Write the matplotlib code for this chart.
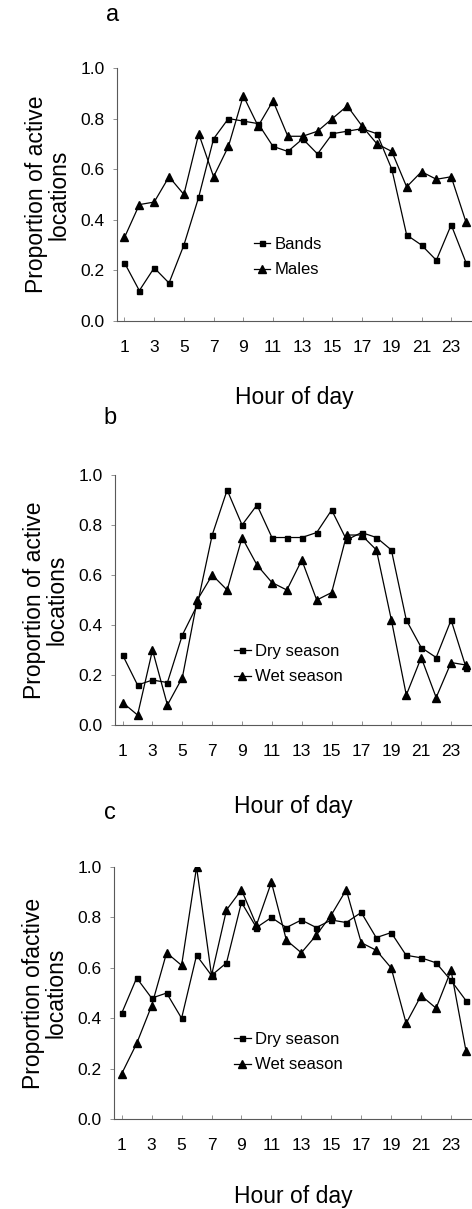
import matplotlib
matplotlib.use("Agg")
import matplotlib.pyplot as plt

plt.rcParams['font.family'] = ['Liberation Sans Narrow', 'Liberation Sans', 'DejaVu Sans']

hours = list(range(1, 25))
xtick_vals = list(range(1, 24, 2))
ytick_vals = [0.0, 0.2, 0.4, 0.6, 0.8, 1.0]

# panel a
bands = [0.23, 0.12, 0.21, 0.15, 0.30, 0.49, 0.72, 0.80, 0.79, 0.78, 0.69, 0.67,
         0.72, 0.66, 0.74, 0.75, 0.76, 0.74, 0.60, 0.34, 0.30, 0.24, 0.38, 0.23]
males = [0.33, 0.46, 0.47, 0.57, 0.50, 0.74, 0.57, 0.69, 0.89, 0.77, 0.87, 0.73,
         0.73, 0.75, 0.80, 0.85, 0.77, 0.70, 0.67, 0.53, 0.59, 0.56, 0.57, 0.39]

# panel b
dry_b = [0.28, 0.16, 0.18, 0.17, 0.36, 0.48, 0.76, 0.94, 0.80, 0.88, 0.75, 0.75,
         0.75, 0.77, 0.86, 0.74, 0.77, 0.75, 0.70, 0.42, 0.31, 0.27, 0.42, 0.23]
wet_b = [0.09, 0.04, 0.30, 0.08, 0.19, 0.50, 0.60, 0.54, 0.75, 0.64, 0.57, 0.54,
         0.66, 0.50, 0.53, 0.76, 0.76, 0.70, 0.42, 0.12, 0.27, 0.11, 0.25, 0.24]

# panel c
dry_c = [0.42, 0.56, 0.48, 0.50, 0.40, 0.65, 0.57, 0.62, 0.86, 0.76, 0.80, 0.76,
         0.79, 0.76, 0.79, 0.78, 0.82, 0.72, 0.74, 0.65, 0.64, 0.62, 0.55, 0.47]
wet_c = [0.18, 0.30, 0.45, 0.66, 0.61, 1.00, 0.57, 0.83, 0.91, 0.77, 0.94, 0.71,
         0.66, 0.73, 0.81, 0.91, 0.70, 0.67, 0.60, 0.38, 0.49, 0.44, 0.59, 0.27]

panels = [
    # lettre, rect, ylabel, serie1, nom1, serie2, nom2, pos legende, pos lettre, y du xlabel
    ('a', [0.248, 0.7345, 0.752, 0.2093], 'Proportion of active\nlocations',
     bands, 'Bands', males, 'Males', (0.385, 0.253), (113, 15), -0.257),
    ('b', [0.244, 0.4003, 0.756, 0.2068], 'Proportion of active\nlocations',
     dry_b, 'Dry season', wet_b, 'Wet season', (0.333, 0.244), (110, 418), -0.28),
    ('c', [0.242, 0.0744, 0.758, 0.2084], 'Proportion ofactive\nlocations',
     dry_c, 'Dry season', wet_c, 'Wet season', (0.335, 0.266), (110, 813), -0.262),
]

fig = plt.figure(figsize=(4.72, 12.09), dpi=100)

for lettre, rect, ylab, s1, n1, s2, n2, legpos, letpos, xly in panels:
    ax = fig.add_axes(rect)
    ax.plot(hours, s1, 'k-', marker='s', markersize=3.6, linewidth=0.9, label=n1)
    ax.plot(hours, s2, 'k-', marker='^', markersize=5.8, linewidth=0.9, label=n2)
    ax.set_xlim(0.5, 24.4)
    ax.set_ylim(0, 1.0)
    ax.set_xticks(xtick_vals)
    ax.set_yticks(ytick_vals)
    ax.set_yticklabels(['%.1f' % v for v in ytick_vals])
    ax.spines['top'].set_visible(False)
    ax.spines['right'].set_visible(False)
    for sp in ['left', 'bottom']:
        ax.spines[sp].set_color('0.35')
        ax.spines[sp].set_linewidth(0.8)
    ax.tick_params(axis='x', direction='in', length=3, width=0.6, color='0.5',
                   labelsize=12.5, pad=14)
    ax.tick_params(axis='y', direction='out', length=3, width=0.6, color='0.5',
                   labelsize=12.5, pad=6)
    ax.set_xlabel('Hour of day', fontsize=16.5, va='top')
    ax.xaxis.set_label_coords(0.5, xly)
    ax.set_ylabel(ylab, fontsize=16.5, linespacing=1.0)
    ax.yaxis.set_label_coords(-0.13, 0.5)
    ax.legend(loc='center left', bbox_to_anchor=legpos, frameon=False,
              fontsize=12, handlelength=1.0, handletextpad=0.25,
              labelspacing=0.65, borderpad=0, borderaxespad=0, numpoints=1)
    fig.text(letpos[0] / 472, 1 - letpos[1] / 1209, lettre, fontsize=17,
             ha='center', va='center')

fig.savefig('out.png', dpi=100)
